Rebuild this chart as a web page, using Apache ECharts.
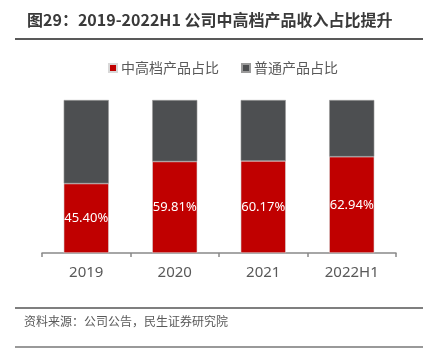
<!DOCTYPE html>
<html><head><meta charset="utf-8">
<script src="https://cdn.jsdelivr.net/npm/echarts@6/dist/echarts.min.js"></script>
<style>html,body{margin:0;padding:0;background:#fff}#c{width:423px;height:348px}</style>
</head><body><div id="c"></div>
<script>
const categories = ['2019', '2020', '2021', '2022H1'];
const highEnd = [45.40, 59.81, 60.17, 62.94];
const ordinary = [54.60, 40.19, 39.83, 37.06];
const seriesNames = ['中高档产品占比', '普通产品占比'];
const titleText = '图29：2019-2022H1 公司中高档产品收入占比提升';
const sourceText = '资料来源：公司公告，民生证券研究院';

const FONT = '"Noto Sans CJK SC", "Noto Sans", sans-serif';
const NUMFONT = '"Noto Sans", "Open Sans", sans-serif';
const chart = echarts.init(document.getElementById('c'), null, {renderer: 'canvas'});
chart.setOption({
  animation: false,
  textStyle: {fontFamily: FONT},
  title: {
    text: titleText, left: 22, top: 7,
    textStyle: {fontFamily: FONT, fontSize: 16, fontWeight: 'bold', color: '#3a3a3a'}
  },
  legend: {
    left: 103, top: 56, itemWidth: 8, itemHeight: 8, itemGap: 22,
    icon: 'rect',
    textStyle: {fontFamily: FONT, fontSize: 14, color: '#595959', padding: [0, 0, 0, -1]},
    data: seriesNames
  },
  grid: {left: 42, right: 27, top: 100, bottom: 95},
  xAxis: {
    type: 'category', data: categories,
    axisLine: {lineStyle: {color: '#898989', width: 1.5}},
    axisTick: {show: true, length: 4, lineStyle: {color: '#898989', width: 1.5}},
    axisLabel: {fontFamily: NUMFONT, fontSize: 15, color: '#595959', margin: 12}
  },
  yAxis: {type: 'value', min: 0, max: 100, show: false, splitLine: {show: false}},
  series: [
    {
      name: seriesNames[0], type: 'bar', stack: 'a', data: highEnd, barWidth: '51%',
      itemStyle: {color: '#C00000', borderColor: '#d8d8d8', borderWidth: 0.6},
      label: {show: true, position: 'inside', color: '#fff', fontSize: 13, fontFamily: NUMFONT,
        formatter: p => p.value.toFixed(2) + '%'}
    },
    {
      name: seriesNames[1], type: 'bar', stack: 'a', data: ordinary, barWidth: '51%',
      itemStyle: {color: '#4D4F51', borderColor: '#9a9a9a', borderWidth: 0.6}
    }
  ],
  graphic: [
    {type: 'rect', shape: {x: 15, y: 38, width: 408, height: 2}, style: {fill: '#595959'}},
    {type: 'rect', shape: {x: 15, y: 307, width: 408, height: 2}, style: {fill: '#7f7f7f'}},
    {type: 'text', x: 24, y: 315, style: {text: sourceText, fontFamily: FONT, fontSize: 12, fill: '#595959'}},
    {type: 'rect', shape: {x: 15, y: 346, width: 408, height: 2}, style: {fill: '#999999'}}
  ]
});
</script></body></html>
